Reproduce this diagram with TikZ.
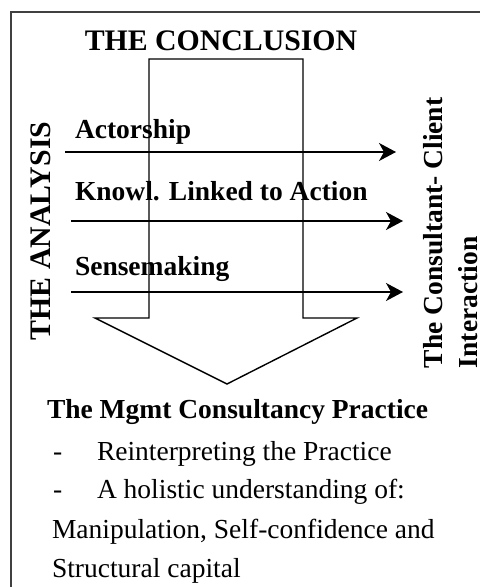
\documentclass[tikz,border=0pt]{standalone}
\usepackage{fontspec}
\setmainfont{Liberation Serif}
\usetikzlibrary{arrows.meta}
\tikzset{
  txt/.style={inner sep=0pt, outer sep=0pt, font=\fontsize{13.75}{16}\selectfont},
  lbl/.style={txt, font=\fontsize{13.75}{16}\selectfont\bfseries},
  ttl/.style={txt, font=\fontsize{14.9}{17}\selectfont\bfseries},
  flow/.style={line width=0.7pt, -{Stealth[length=8.5pt,width=9pt,inset=2.5pt]}}
}
\begin{document}
\begin{tikzpicture}[x=0.5pt,y=-0.5pt,line width=0.7pt]
  \useasboundingbox (0,0) rectangle (480,587);
  % frame
  \draw[line width=0.8pt, black!75] (480,12) -- (11,12) -- (11,587);
  % big arrow
  \draw (149,59) -- (303,59) -- (303,318) -- (357,318) -- (227,384)
        -- (95,318) -- (149,318) -- cycle;
  \node[ttl] (concl) at (221,51) [anchor=base] {THE CONCLUSION};
  \node[ttl, rotate=90, anchor=base] (analysis) at (50,231) {THE ANALYSIS};
  \node[lbl, rotate=90, anchor=base west] (cc1) at (442,368) {The Consultant- Client};
  \node[lbl, rotate=90, anchor=base west] (cc2) at (477,368) {Interaction};
  % the three strands
  \node[lbl, anchor=base west] (actor) at (75,139) {Actorship};
  \node[lbl, anchor=base west] (knowl) at (75,201) {Knowl. Linked to Action};
  \node[lbl, anchor=base west] (sense) at (75,275) {Sensemaking};
  \coordinate (actorS) at (65,152);  \coordinate (actorE) at (396,152);
  \coordinate (knowlS) at (71,221);  \coordinate (knowlE) at (403,221);
  \coordinate (senseS) at (71,292);  \coordinate (senseE) at (403,292);
  \draw[flow] (actorS) -- (actorE);
  \draw[flow] (knowlS) -- (knowlE);
  \draw[flow] (senseS) -- (senseE);
  % practice
  \node[lbl, anchor=base west] (mgmt) at (47,418) {The Mgmt Consultancy Practice};
  \node[txt, anchor=base west] (dash1) at (53,460) {-};
  \node[txt, anchor=base west] (reint) at (97,460) {Reinterpreting the Practice};
  \node[txt, anchor=base west] (dash2) at (53,498) {-};
  \node[txt, anchor=base west] (holist) at (97,498) {A holistic understanding of:};
  \node[txt, anchor=base west] (manip) at (52,538) {Manipulation, Self-confidence and};
  \node[txt, anchor=base west] (struct) at (52,577) {Structural capital};
\end{tikzpicture}
\end{document}
